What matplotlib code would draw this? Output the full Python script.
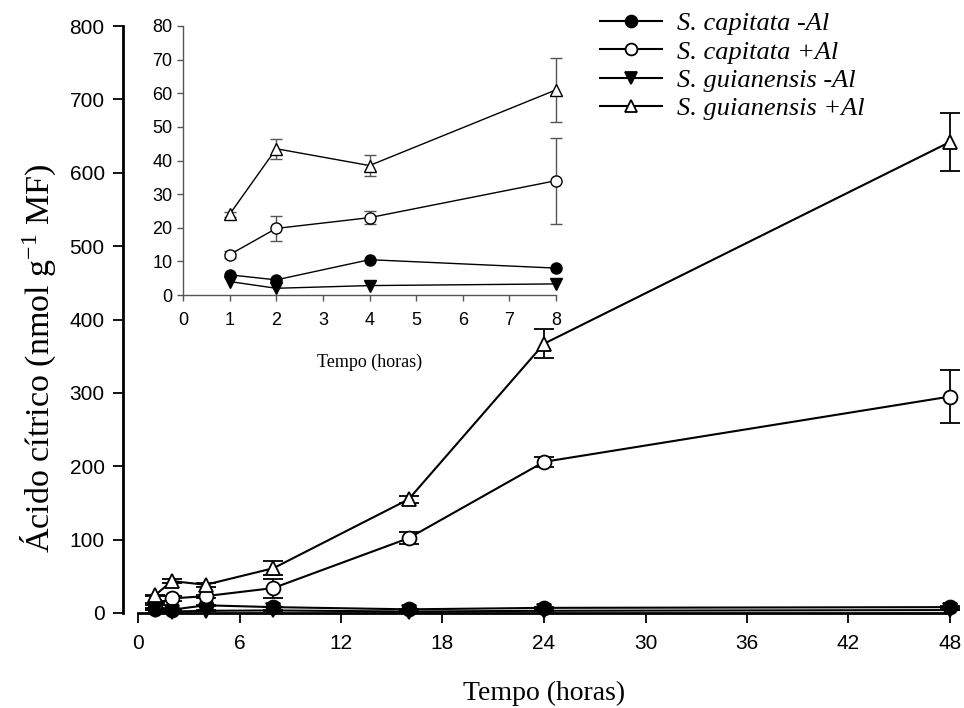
import matplotlib
matplotlib.use("Agg")
import matplotlib.pyplot as plt
import numpy as np

# Main data
t_main = [1, 2, 4, 8, 16, 24, 48]
cap_minus = [6, 4.5, 10.5, 8, 5, 7, 8]
cap_minus_err = [0.5, 0.5, 0.5, 0.5, 1, 1, 1]
cap_plus = [12, 19.8, 23, 34, 102, 206, 295]
cap_plus_err = [1, 4, 2, 13, 8, 7, 36]
gui_minus = [4, 2, 3, 3.5, 2, 3, 4]
gui_minus_err = [0.5, 0.5, 0.5, 0.5, 0.5, 0.5, 0.5]
gui_plus = [24, 43.5, 38.5, 61, 155, 367, 642]
gui_plus_err = [1, 3, 3, 9.5, 5, 20, 40]

# Inset data (first hours)
t_inset = [1, 2, 4, 8]
ins_cap_minus = [6, 4.5, 10.5, 8]
ins_cap_plus = [12, 19.8, 23, 34]
ins_cap_plus_err = [1, 3.8, 2, 12.8]
ins_gui_minus = [4, 2, 2.8, 3.3]
ins_gui_plus = [24, 43.5, 38.5, 61]
ins_gui_plus_err = [0.8, 3, 3, 9.5]

labels = ["S. capitata -Al", "S. capitata +Al", "S. guianensis -Al", "S. guianensis +Al"]
main_x_ticks = [0, 6, 12, 18, 24, 30, 36, 42, 48]
main_y_ticks = [0, 100, 200, 300, 400, 500, 600, 700, 800]
inset_x_ticks = [0, 1, 2, 3, 4, 5, 6, 7, 8]
inset_y_ticks = [0, 10, 20, 30, 40, 50, 60, 70, 80]

serif = "Liberation Serif"
sans = "Liberation Sans"
plt.rcParams["mathtext.fontset"] = "custom"
plt.rcParams["mathtext.rm"] = serif
plt.rcParams["mathtext.it"] = serif + ":italic"

W, H = 964, 708
fig = plt.figure(figsize=(W / 100, H / 100), dpi=100)

ax = fig.add_axes([138 / W, 1 - 613 / H, (950 - 138) / W, (613 - 26) / H])

styles = [
    dict(marker="o", mfc="black", mec="black"),
    dict(marker="o", mfc="white", mec="black"),
    dict(marker="v", mfc="black", mec="black"),
    dict(marker="^", mfc="white", mec="black"),
]
series = [(cap_minus, cap_minus_err), (cap_plus, cap_plus_err),
          (gui_minus, gui_minus_err), (gui_plus, gui_plus_err)]
for (y, e), st, lab in zip(series, styles, labels):
    ax.errorbar(t_main, y, yerr=e, color="black", lw=1.5, ms=10, capsize=7,
                elinewidth=1.3, capthick=1.3, mew=1.3, label=lab, clip_on=False, **st)

ax.set_xlim(0, 48)
ax.set_ylim(0, 800)
ax.set_xticks(main_x_ticks)
ax.set_yticks(main_y_ticks)
ax.spines["top"].set_visible(False)
ax.spines["right"].set_visible(False)
ax.spines["left"].set_position(("outward", 11))
ax.spines["left"].set_linewidth(2)
ax.spines["bottom"].set_linewidth(2)
ax.tick_params(direction="out", length=7, width=1.3, labelsize=15)
ax.tick_params(axis="x", pad=8)
ax.tick_params(axis="y", pad=6)
for lbl in ax.get_xticklabels() + ax.get_yticklabels():
    lbl.set_fontfamily(sans)
ax.set_xlabel("Tempo (horas)", fontfamily=serif, fontsize=20, labelpad=20)
ax.set_ylabel("Ácido cítrico (nmol g$^{\\mathrm{-1}}$ MF)", fontfamily=serif, fontsize=24.5)
ax.yaxis.set_label_coords(-0.098, 0.434)

leg_handles = [plt.Line2D([], [], color="black", lw=1.5, ms=8.5, mew=1.3, **st) for st in styles]
leg = ax.legend(leg_handles, labels, loc="upper left", bbox_to_anchor=(600 / W, 1 - 12 / H),
                bbox_transform=fig.transFigure, frameon=False,
                prop=dict(family=serif, style="italic", size=19), handlelength=2.35,
                labelspacing=0.18, handletextpad=0.55, borderaxespad=0, borderpad=0)

# Inset
ax2 = fig.add_axes([183 / W, 1 - 295 / H, (556 - 183) / W, (295 - 26) / H])
ins = [(ins_cap_minus, None), (ins_cap_plus, ins_cap_plus_err),
       (ins_gui_minus, None), (ins_gui_plus, ins_gui_plus_err)]
for (y, e), st in zip(ins, styles):
    ax2.errorbar(t_inset, y, yerr=e, color="black", lw=1.0, ms=8, capsize=4,
                 elinewidth=1.0, ecolor="#555555", capthick=1.0, mew=1.0, clip_on=False, **st)
ax2.set_xlim(0, 8)
ax2.set_ylim(0, 80)
ax2.set_xticks(inset_x_ticks)
ax2.set_yticks(inset_y_ticks)
ax2.patch.set_alpha(0)
ax2.spines["top"].set_visible(False)
ax2.spines["right"].set_visible(False)
for s in ["left", "bottom"]:
    ax2.spines[s].set_color("#555555")
    ax2.spines[s].set_linewidth(1.0)
ax2.tick_params(direction="out", length=4, width=1.0, color="#555555", labelsize=13)
ax2.tick_params(axis="x", pad=8)
for lbl in ax2.get_xticklabels() + ax2.get_yticklabels():
    lbl.set_fontfamily(sans)
ax2.set_xlabel("Tempo (horas)", fontfamily=serif, fontsize=13, labelpad=18)

fig.savefig("out.png", dpi=100)
